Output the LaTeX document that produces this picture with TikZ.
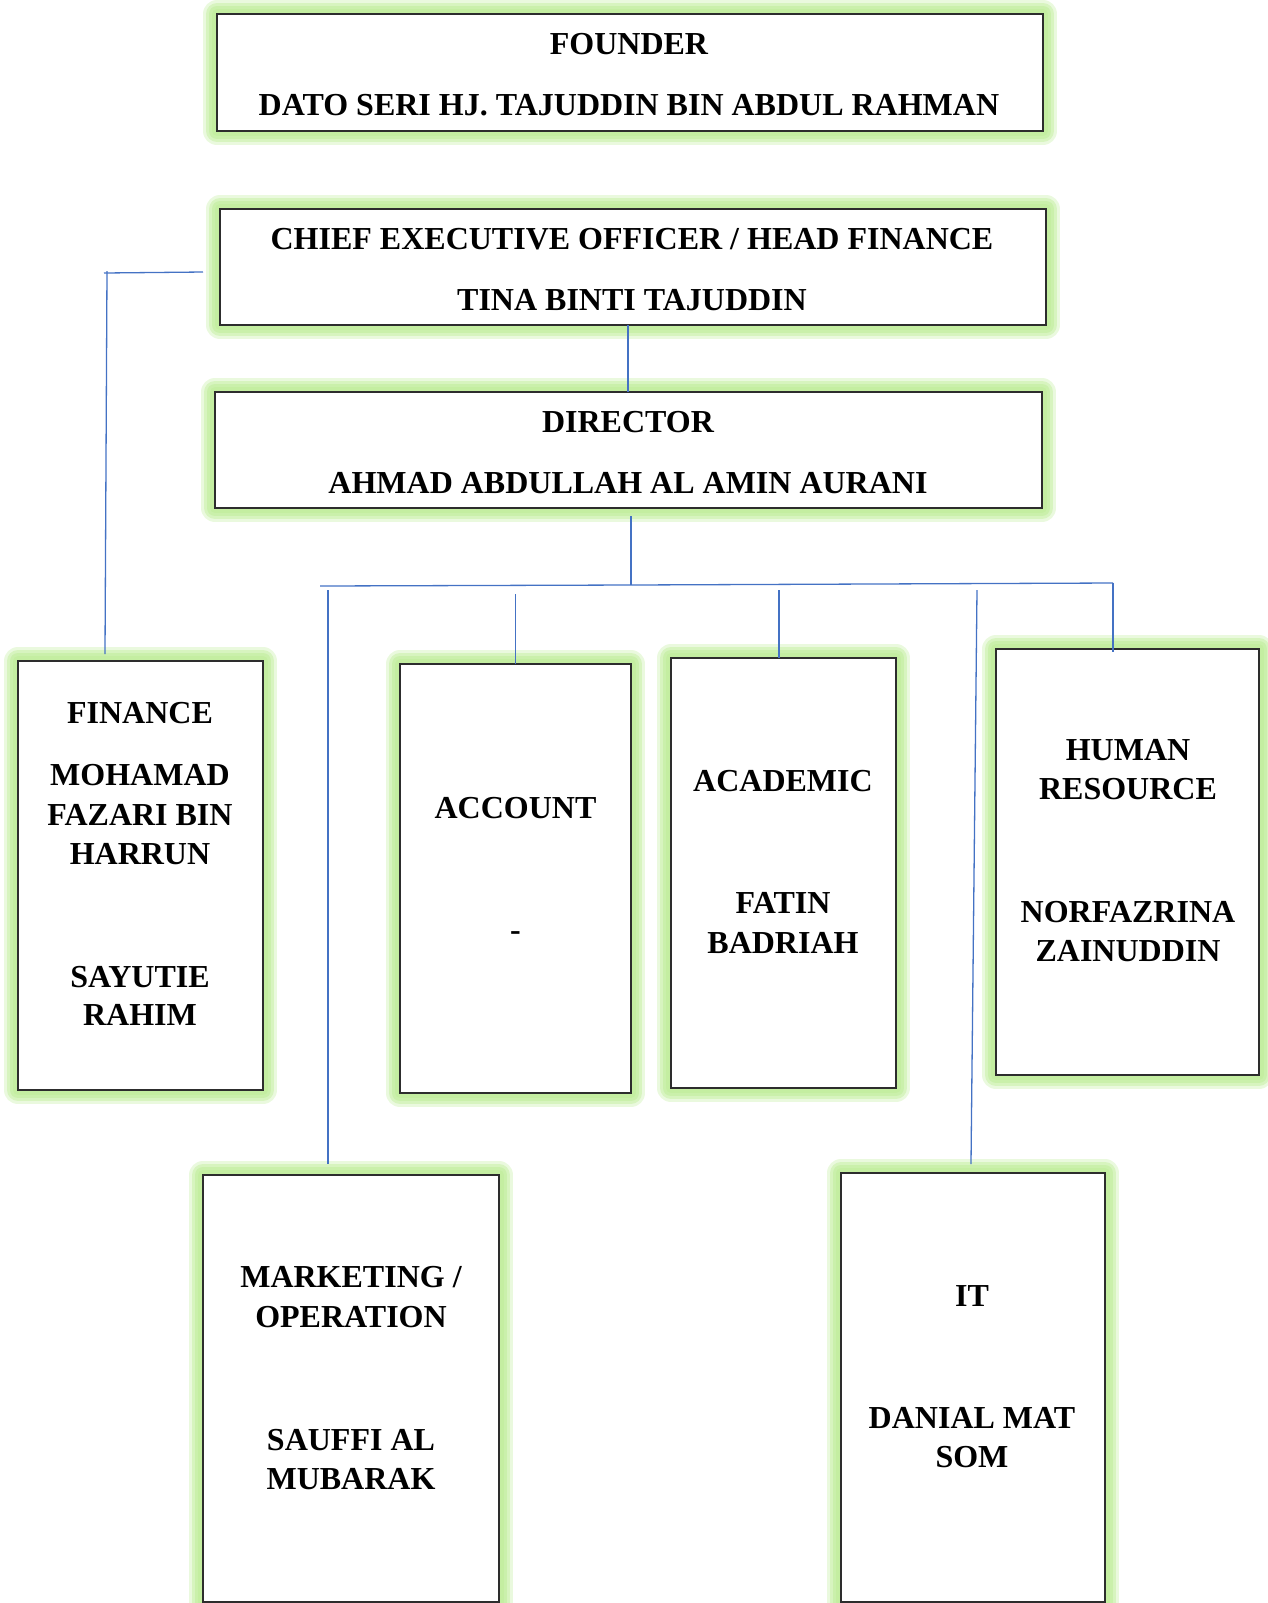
\documentclass[tikz,border=0pt]{standalone}
\usepackage{fontspec}
\setmainfont{Liberation Serif}
\definecolor{glowc}{RGB}{195,238,160}
\definecolor{boxline}{RGB}{45,45,45}
\definecolor{connc}{RGB}{68,114,196}
\begin{document}
\begin{tikzpicture}[x=0.5pt,y=-0.5pt,
 box/.style={draw=boxline, line width=1.3pt, fill=white, inner sep=0pt, outer sep=0pt,
   preaction={draw=glowc, line width=14pt, draw opacity=0.35, line join=round},
   preaction={draw=glowc, line width=11pt, draw opacity=0.5, line join=round},
   preaction={draw=glowc, line width=8pt, draw opacity=0.65, line join=round},
   preaction={draw=glowc, line width=5pt, draw opacity=0.85, line join=round}},
 txt/.style={anchor=base, inner sep=0pt, font=\fontsize{16pt}{19.75pt}\selectfont\bfseries},
 conn/.style={draw=connc, line width=0.65pt}]
\useasboundingbox (0,0) rectangle (1268,1603);

% boxes
\node[box, minimum width=413pt, minimum height=58.5pt] (founder) at (630,72.5) {};
\node[box, minimum width=413pt, minimum height=58pt] (ceo) at (633,267) {};
\node[box, minimum width=413.5pt, minimum height=58pt] (dir) at (628.5,450) {};
\node[box, minimum width=122.5pt, minimum height=214.5pt] (fin) at (140.5,875.5) {};
\node[box, minimum width=115.5pt, minimum height=214.5pt] (acc) at (515.5,878.5) {};
\node[box, minimum width=112.5pt, minimum height=215pt] (aca) at (783.5,873) {};
\node[box, minimum width=131.5pt, minimum height=213pt] (hr) at (1127.5,862) {};
\node[box, minimum width=148pt, minimum height=213.5pt] (mkt) at (351,1388.5) {};
\node[box, minimum width=132pt, minimum height=214.5pt] (it) at (973,1387.5) {};

% texts
\node[txt] (founder1) at (629,54.5) {FOUNDER};
\node[txt] (founder2) at (629,115.5) {DATO SERI HJ. TAJUDDIN BIN ABDUL RAHMAN};
\node[txt] (ceo1) at (632,249.5) {CHIEF EXECUTIVE OFFICER / HEAD FINANCE};
\node[txt] (ceo2) at (632,310.5) {TINA BINTI TAJUDDIN};
\node[txt] (dir1) at (628,432.5) {DIRECTOR};
\node[txt] (dir2) at (628,493.5) {AHMAD ABDULLAH AL AMIN AURANI};
\node[txt] (fin1) at (140,723.5) {FINANCE};
\node[txt] (fin2) at (140,785.5) {MOHAMAD};
\node[txt] (fin3) at (140,825.5) {FAZARI BIN};
\node[txt] (fin4) at (140,864.5) {HARRUN};
\node[txt] (fin5) at (140,987.5) {SAYUTIE};
\node[txt] (fin6) at (140,1025.5) {RAHIM};
\node[txt] (acc1) at (515.5,818.5) {ACCOUNT};
\node[txt] (acc2) at (515.5,940) {-};
\node[txt] (aca1) at (783,791.5) {ACADEMIC};
\node[txt] (aca2) at (783,913.5) {FATIN};
\node[txt] (aca3) at (783,953.5) {BADRIAH};
\node[txt] (hr1) at (1128,760.5) {HUMAN};
\node[txt] (hr2) at (1128,799.5) {RESOURCE};
\node[txt] (hr3) at (1128,922.5) {NORFAZRINA};
\node[txt] (hr4) at (1128,961.5) {ZAINUDDIN};
\node[txt] (mkt1) at (351,1287.5) {MARKETING /};
\node[txt] (mkt2) at (351,1327.5) {OPERATION};
\node[txt] (mkt3) at (351,1450.5) {SAUFFI AL};
\node[txt] (mkt4) at (351,1489.5) {MUBARAK};
\node[txt] (it1) at (972,1306.5) {IT};
\node[txt] (it2) at (972,1428.5) {DANIAL MAT};
\node[txt] (it3) at (972,1467.5) {SOM};

% connector coordinates
\coordinate (ceoA) at (203,272);
\coordinate (ceoB) at (104,273);
\coordinate (finV1) at (107,271);
\coordinate (finV2) at (105,654);
\coordinate (dirD) at (631,516);
\coordinate (busL) at (320,586);
\coordinate (busM) at (631,585);
\coordinate (busR) at (1113,583);
\coordinate (hrE) at (1113,652);
\coordinate (mktT) at (328,590);
\coordinate (mktE) at (328,1164);
\coordinate (accT) at (515.5,594);
\coordinate (acaT) at (779,590);
\coordinate (itT) at (977,590);
\coordinate (itE) at (971,1164);
\coordinate (cdX) at (628,0);

% connectors
\draw[conn] (ceoA) -- (ceoB);
\draw[conn] (finV1) -- (finV2);
\draw[conn] (dir.north -| cdX) -- (ceo.south -| cdX);
\draw[conn] (dirD) -- (busM);
\draw[conn] (busL) -- (busM) -- (busR);
\draw[conn] (busR) -- (hrE);
\draw[conn] (mktT) -- (mktE);
\draw[conn] (accT) -- (acc.north);
\draw[conn] (acaT) -- (acaT |- aca.north);
\draw[conn] (itT) -- (itE);
\end{tikzpicture}
\end{document}
